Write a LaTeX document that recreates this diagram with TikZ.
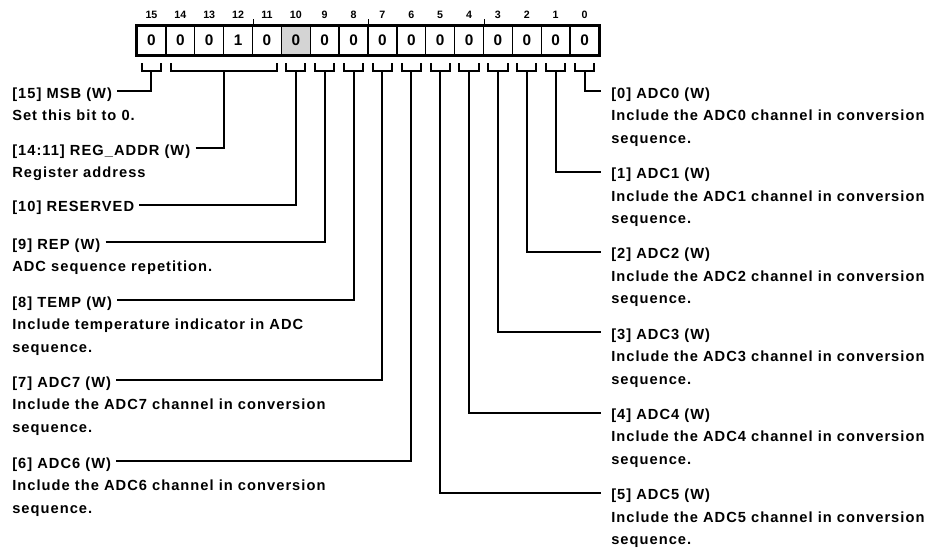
\documentclass[tikz,border=0pt]{standalone}
\usepackage{fontspec}
\setmainfont{Liberation Sans}
\newfontfamily\regfont[LetterSpace=7]{Liberation Sans}
\usetikzlibrary{calc}
\definecolor{ReservedGray}{HTML}{D4D4D4}
\definecolor{LineBlack}{HTML}{000000}

\begin{document}
\begin{tikzpicture}[x=0.75pt, y=-0.75pt, line join=miter,
  cell/.style={draw=LineBlack, line width=1.1pt, minimum width=21.66pt, minimum height=21.75pt,
    inner sep=0pt, font=\fontsize{11.5}{11.5}\selectfont\bfseries},
  bitnum/.style={inner sep=0pt, font=\fontsize{8}{8}\selectfont\bfseries},
  fieldname/.style={anchor=base west, inner sep=0pt, font=\fontsize{11}{13}\selectfont\regfont\bfseries},
  fielddesc/.style={fieldname},
  wire/.style={draw=LineBlack, line width=1.5pt}]
  \useasboundingbox (0,0) rectangle (932,547);

  % register cells, bit numbers and bracket stems
  \foreach \k/\v/\bg in {15/0/white,14/0/white,13/0/white,12/1/white,11/0/white,10/0/ReservedGray,
      9/0/white,8/0/white,7/0/white,6/0/white,5/0/white,4/0/white,3/0/white,2/0/white,1/0/white,0/0/white} {
    \node[cell, fill=\bg] (c\k) at ({137+(15.5-\k)*28.875}, 40.5) {\v};
    \node[bitnum] (n\k) at ($(c\k.north)+(0,-10.7)$) {\k};
    \coordinate (s\k) at ($(c\k.south)+(0,15.5)$);
  }
  \draw[line width=2.2pt] (c15.north west) rectangle (c0.south east);
  \foreach \k in {12,8,4}
    \draw[line width=1.1pt] (c\k.north east) -- ++(0,-6);

  % brackets under the fields
  \foreach \k in {15,10,9,8,7,6,5,4,3,2,1,0}
    \draw[wire] ($(c\k.south west)+(5.5,7.5)$) |- ($(c\k.south east)+(-5.5,15.5)$) -- ++(0,-8);
  \draw[wire] ($(c14.south west)+(5.5,7.5)$) |- ($(c11.south east)+(-5.5,15.5)$) -- ++(0,-8);
  \coordinate (s14) at ($(c13.south east)+(0,15.5)$);

  % left column
  \node[fieldname] (t15) at (12,98.3) {[15] MSB (W)};
  \node[fielddesc] (d15) at (12,120.8) {Set this bit to 0.};
  \node[fieldname] (t14) at (12,155) {[14:11] REG\_ADDR (W)};
  \node[fielddesc] (d14) at (12,177.3) {Register address};
  \node[fieldname] (t10) at (12,211.7) {[10] RESERVED};
  \node[fieldname] (t9) at (12,249.3) {[9] REP (W)};
  \node[fielddesc] (d9) at (12,271.7) {ADC sequence repetition.};
  \node[fieldname] (t8) at (12,307.3) {[8] TEMP (W)};
  \node[fielddesc] (d8a) at (12,329.7) {Include temperature indicator in ADC};
  \node[fielddesc] (d8b) at (12,352) {sequence.};
  \node[fieldname] (t7) at (12,387.3) {[7] ADC7 (W)};
  \node[fielddesc] (d7a) at (12,409.7) {Include the ADC7 channel in conversion};
  \node[fielddesc] (d7b) at (12,432) {sequence.};
  \node[fieldname] (t6) at (12,468.3) {[6] ADC6 (W)};
  \node[fielddesc] (d6a) at (12,490.7) {Include the ADC6 channel in conversion};
  \node[fielddesc] (d6b) at (12,513) {sequence.};
  \foreach \k in {15,14,10,9,8,7,6}
    \draw[wire] ($(t\k.base east)+(5,-7)$) -| (s\k);

  % right column
  \foreach \k in {0,...,5} {
    \node[fieldname] (t\k) at (611,{98.3+80.3*\k}) {[\k] ADC\k\ (W)};
    \node[fielddesc] (d\k a) at (611,{120.7+80.3*\k}) {Include the ADC\k\ channel in conversion};
    \node[fielddesc] (d\k b) at (611,{143.1+80.3*\k}) {sequence.};
    \draw[wire] (s\k) |- ($(t\k.base west)+(-10,-7)$);
  }
\end{tikzpicture}
\end{document}
